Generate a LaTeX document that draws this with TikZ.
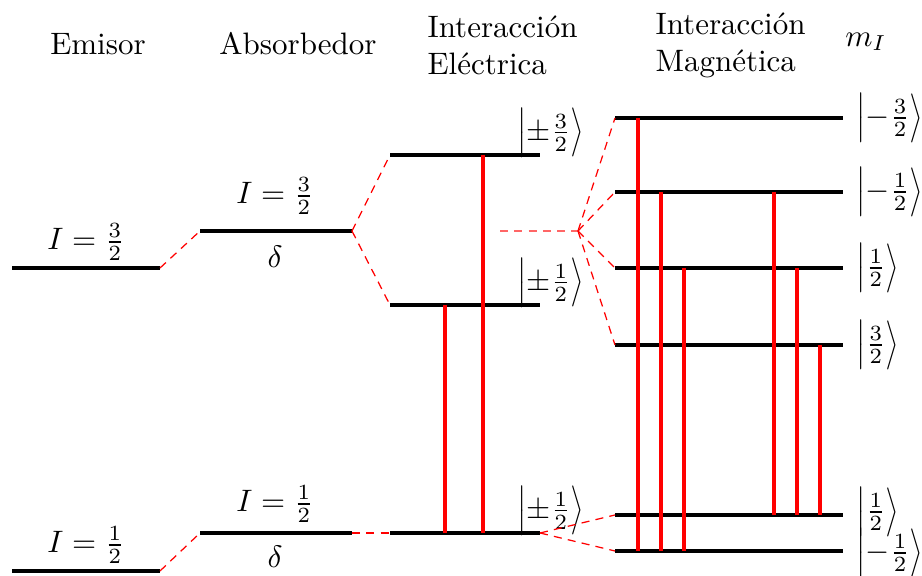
\documentclass[tikz,border=0pt]{standalone}
\usepackage{amsmath}
\usepackage{graphicx}
\usetikzlibrary{positioning}
\definecolor{lvLine}{HTML}{000000}
\definecolor{lvTrans}{HTML}{FF0000}
\newcommand{\tallDelim}[1]{\vcenter{\hbox{\scalebox{0.9}[1.32]{$#1$}}}}
\newcommand{\spinket}[1]{\mathopen{\tallDelim{\bigl|}}#1\mathclose{\tallDelim{\bigr\rangle}}}
\tikzset{
  level/.style={draw=lvLine, line width=1.3pt},
  link/.style={draw=lvTrans, line width=0.4pt, dash pattern=on 2.6pt off 2pt},
  weaklink/.style={link, draw=lvTrans!60},
  trans/.style={draw=lvTrans, line width=1.3pt},
  head/.style={align=left, inner sep=0pt},
  spin/.style={inner sep=1pt},
  ket/.style={inner sep=0pt}
}

\begin{document}
\begin{tikzpicture}[x=0.3226pt, y=-0.3226pt]
  \useasboundingbox (0,0) rectangle (922,576);
  % cabeceras
  \node[head] (hEm) at (98,44) {Emisor};
  \node[head] (hAb) at (298,44) {Absorbedor};
  \node[head, anchor=west] (hEl) at (427,45) {Interacción\\Eléctrica};
  \node[head, anchor=west] (hMa) at (655,45) {Interacción\\Magnética};
  \node[head] (hMi) at (866,42) {$m_I$};

  % niveles emisor y absorbedor
  \coordinate (em3a) at (12,268);  \coordinate (em3b) at (160,268);
  \coordinate (em1a) at (12,571);  \coordinate (em1b) at (160,571);
  \coordinate (ab3a) at (200,231); \coordinate (ab3b) at (352,231);
  \coordinate (ab1a) at (200,533); \coordinate (ab1b) at (352,533);
  \draw[level] (em3a) -- (em3b);
  \draw[level] (em1a) -- (em1b);
  \draw[level] (ab3a) -- (ab3b);
  \draw[level] (ab1a) -- (ab1b);
  \node[spin] (lEm3) at (86,242) {$I=\frac{3}{2}$};
  \node[spin] (lEm1) at (86,545) {$I=\frac{1}{2}$};
  \node[spin] (lAb3) at (275,196) {$I=\frac{3}{2}$};
  \node[spin] (dAb3) at (275,257) {$\delta$};
  \node[spin] (lAb1) at (275,504) {$I=\frac{1}{2}$};
  \node[spin] (dAb1) at (275,557) {$\delta$};

  % interaccion electrica
  \coordinate (el3a) at (390,155); \coordinate (el3b) at (540,155);
  \coordinate (el1a) at (390,305); \coordinate (el1b) at (540,305);
  \coordinate (el0a) at (390,533); \coordinate (el0b) at (540,533);
  \draw[level] (el3a) -- (el3b);
  \draw[level] (el1a) -- (el1b);
  \draw[level] (el0a) -- (el0b);
  \node[ket, anchor=south west] (kEl3) at (517,158) {$\spinket{\pm\frac{3}{2}}$};
  \node[ket, anchor=south west] (kEl1) at (517,308) {$\spinket{\pm\frac{1}{2}}$};
  \node[ket, anchor=south west] (kEl0) at (517,536) {$\spinket{\pm\frac{1}{2}}$};

  % interaccion magnetica
  \foreach \i/\y in {1/118,2/192,3/268,4/345,5/515,6/551}{
    \coordinate (ma\i) at (615,\y);
    \coordinate (mb\i) at (843,\y);
    \draw[level] (ma\i) -- (mb\i);
  }
  \node[ket, anchor=west] (kMa1) at (856,118) {$\spinket{-\frac{3}{2}}$};
  \node[ket, anchor=west] (kMa2) at (856,192) {$\spinket{-\frac{1}{2}}$};
  \node[ket, anchor=west] (kMa3) at (856,268) {$\spinket{\frac{1}{2}}$};
  \node[ket, anchor=west] (kMa4) at (856,345) {$\spinket{\frac{3}{2}}$};
  \node[ket, anchor=west] (kMa5) at (856,512) {$\spinket{\frac{1}{2}}$};
  \node[ket, anchor=west] (kMa6) at (856,553) {$\spinket{-\frac{1}{2}}$};

  % conexiones
  \draw[link] (em3b) -- (ab3a);
  \draw[link] (em1b) -- (ab1a);
  \draw[link] (ab3b) -- (el3a);
  \draw[link] (ab3b) -- (el1a);
  \draw[link] (ab1b) -- (el0a);
  \coordinate (mid) at (500,231);
  \coordinate (cen) at (578,231);
  \draw[weaklink] (mid) -- (cen);
  \foreach \i in {1,...,4} \draw[link] (cen) -- (ma\i);
  \draw[link] (el0b) -- (ma5);
  \draw[link] (el0b) -- (ma6);

  % transiciones
  \draw[trans] (el1a -| 445,0) -- (el0a -| 445,0);
  \draw[trans] (el3a -| 483,0) -- (el0a -| 483,0);
  \foreach \x/\u/\d in {638/1/6,661/2/6,684/3/6,774/2/5,797/3/5,820/4/5}
    \draw[trans] (ma\u -| \x,0) -- (ma\d -| \x,0);
\end{tikzpicture}
\end{document}
